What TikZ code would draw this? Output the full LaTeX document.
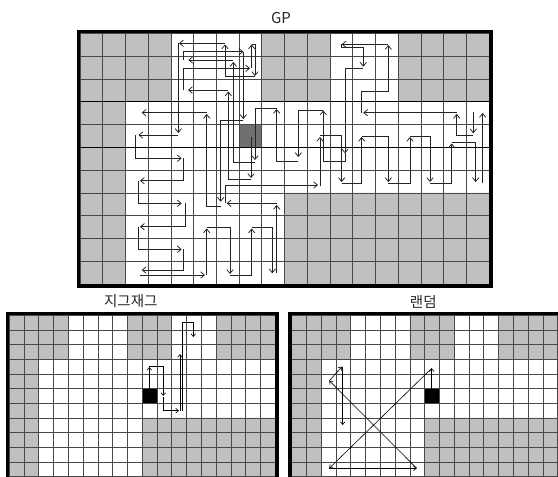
\documentclass[tikz,border=0pt]{standalone}
\usepackage{fontspec}
\newfontfamily\krfont{Noto Sans CJK KR}
\usetikzlibrary{arrows.meta}
\definecolor{cellgray}{RGB}{192,192,192}
\definecolor{lineg}{RGB}{72,72,72}
\definecolor{darkcell}{RGB}{112,112,112}
\definecolor{arrowc}{RGB}{35,35,35}
% #1 x0, #2 y0, #3 cell width, #4 cell height
\newcommand\drawpanel[4]{%
\begin{scope}[shift={(#1,#2)}, x=#3pt, y=-#4pt]
 \fill[cellgray] (0,0) rectangle (4,3) (8,0) rectangle (11,3) (14,0) rectangle (18,3)
   (0,3) rectangle (2,11) (9,7) rectangle (18,11);
\end{scope}}
\newcommand\drawgrid[4]{%
\begin{scope}[shift={(#1,#2)}, x=#3pt, y=-#4pt]
 \foreach \i in {0,...,18} \draw[gline] (\i,0) -- (\i,11);
 \foreach \j in {0,...,11} \draw[gline] (0,\j) -- (18,\j);
 \draw[pframe] ([shift={(-1.7pt,1.7pt)}]0,0) rectangle ([shift={(1.7pt,-1.7pt)}]18,11);
\end{scope}}
\begin{document}
\begin{tikzpicture}[x=1pt,y=-1pt,
  gline/.style={draw=lineg, line width=0.8pt},
  pframe/.style={draw=black, line width=3.4pt},
  gpmove/.style={draw=arrowc, line width=0.75pt, -{Straight Barb[length=3.8pt,width=6.4pt]}},
  smove/.style={draw=black, line width=0.6pt, -{Straight Barb[length=2.8pt,width=4.6pt]}},
  lbl/.style={font=\krfont\fontsize{14.5}{16}\selectfont, inner sep=0pt, text=black!85}]
\fill[white] (0,0) rectangle (558,477);
\useasboundingbox (0,0) rectangle (558,477);

% ---------- panels ----------
\drawpanel{80}{33.3}{22.73}{22.8}
\fill[darkcell] (239.1,124.5) rectangle (261.8,147.3);
\drawgrid{80}{33.3}{22.73}{22.8}
\draw[black, line width=0.9pt] (80,101.7) -- (489.1,101.7);
\draw[black, line width=0.9pt] (80,147.3) -- (489.1,147.3);

\drawpanel{9.3}{315.3}{14.78}{14.67}
\fill[black] (142.3,388.7) rectangle (157.1,403.4);
\drawgrid{9.3}{315.3}{14.78}{14.67}

\drawpanel{291.7}{315.3}{14.78}{14.67}
\fill[black] (424.7,388.7) rectangle (439.5,403.4);
\drawgrid{291.7}{315.3}{14.78}{14.67}

% ---------- labels ----------
\node[lbl, font=\krfont\fontsize{15}{17}\selectfont] (tgp) at (281,17.7) {GP};
\node[lbl] (tzz) at (130.8,301) {지그재그};
\node[lbl] (trd) at (423.3,302) {랜덤};

% ---------- GP path ----------
\draw[gpmove] (251,137) -- (251,178);
\draw[gpmove] (251,179) -- (228.3,179) -- (228.3,91.5);
\draw[gpmove] (228.3,90) -- (188,90);
\draw[gpmove] (183.3,90) -- (183.3,68.3) -- (250,68.3);
\draw[gpmove] (251.7,68.3) -- (251.7,44.5);
\draw[gpmove] (251.7,44.5) -- (255,44.5) -- (255,76);
\draw[gpmove] (255,76.7) -- (225,76.7) -- (225,44.5);
\draw[gpmove] (225,43.3) -- (179,43.3);
\draw[gpmove] (178.3,43.3) -- (178.3,133);
\draw[gpmove] (178.3,135) -- (138.5,135);
\draw[gpmove] (135,135) -- (135,158.3) -- (181.7,158.3);
\draw[gpmove] (183.3,158.3) -- (183.3,180.7) -- (140,180.7);
\draw[gpmove] (138.3,180.7) -- (138.3,203.3) -- (181.7,203.3);
\draw[gpmove] (185,203.3) -- (185,226.7) -- (140,226.7);
\draw[gpmove] (138.3,226.7) -- (138.3,249.3) -- (181.7,249.3);
\draw[gpmove] (183.3,249.3) -- (183.3,270) -- (141.7,270);
\draw[gpmove] (140,275) -- (205,275);
\draw[gpmove] (206.7,275) -- (206.7,228.5);
\draw[gpmove] (206.7,227.3) -- (230,227.3) -- (230,274);
\draw[gpmove] (230,275) -- (251.7,275) -- (251.7,228.5);
\draw[gpmove] (251.7,227.3) -- (272.3,227.3) -- (272.3,273.3);
\draw[gpmove] (276.7,273.3) -- (276.7,205);
\draw[gpmove] (276.7,203.3) -- (226.7,203.3);
\draw[gpmove] (225,203.3) -- (225,185) -- (318,185);
\draw[gpmove] (320,186) -- (320,137);
\draw[gpmove] (320,135) -- (341.7,135) -- (341.7,182);
\draw[gpmove] (341.7,183.3) -- (361.7,183.3) -- (361.7,137);
\draw[gpmove] (361.7,136) -- (388.3,136) -- (388.3,182);
\draw[gpmove] (388.3,183.3) -- (410,183.3) -- (410,137);
\draw[gpmove] (410,136) -- (430,136) -- (430,182);
\draw[gpmove] (430,183.3) -- (451.7,183.3) -- (451.7,143.5);
\draw[gpmove] (451.7,142.7) -- (475.7,142.7) -- (475.7,182);
\draw[gpmove] (482.7,183.3) -- (482.7,113);
\draw[gpmove] (473.3,111.7) -- (473.3,133.3);
\draw[gpmove] (473.3,135) -- (456.7,135) -- (456.7,114);
\draw[gpmove] (456.7,112.7) -- (363.3,112.7);
\draw[gpmove] (361.7,112.7) -- (361.7,91.7) -- (388.3,91.7) -- (388.3,45);
\draw[gpmove] (388.3,44.3) -- (341.7,44.3);
\draw[gpmove] (341.7,44.3) -- (341.7,47.7) -- (363.3,47.7) -- (363.3,66.7);
\draw[gpmove] (363.3,68.3) -- (345,68.3) -- (345,153.3);
\draw[gpmove] (345,153.3) -- (345,161.7) -- (323.3,161.7) -- (323.3,110.5);
\draw[gpmove] (323.3,110) -- (298.3,110) -- (298.3,157);
\draw[gpmove] (298.3,161.7) -- (276.7,161.7) -- (276.7,109);
\draw[gpmove] (276.7,108.3) -- (255,108.3) -- (255,160);
\draw[gpmove] (255,162) -- (233.3,162) -- (233.3,62);
\draw[gpmove] (233.3,60) -- (188.3,60);
\draw[gpmove] (183.3,60) -- (183.3,51.7) -- (243.3,51.7);
\draw[gpmove] (243.3,51.7) -- (243.3,119);
\draw[gpmove] (243.3,120.7) -- (220.7,120.7) -- (220.7,201.7);
\draw[gpmove] (220.7,206.7) -- (206.7,206.7) -- (206.7,114);
\draw[gpmove] (206.7,112.7) -- (141.7,112.7);

% ---------- zigzag path ----------
\draw[smove] (149.3,388.7) -- (149.3,367);
\draw[smove] (149.3,366.7) -- (163.3,366.7) -- (163.3,396);
\draw[smove] (163.3,397) -- (163.3,410.7) -- (179,410.7);
\draw[smove] (180,410.7) -- (180,354);
\draw[smove] (182.7,410.7) -- (182.7,322.7) -- (193.3,322.7) -- (193.3,337);

% ---------- random path ----------
\draw[smove] (431.7,389.3) -- (431.7,368.3);
\draw[smove] (431.7,368.3) -- (329.3,468.3);
\draw[smove] (329.3,468.3) -- (416.7,468.3);
\draw[smove] (416.7,468.3) -- (329.3,380.7);
\draw[smove] (329.3,380.7) -- (342,366.7);
\draw[smove] (342.7,366.7) -- (342.7,425);
\end{tikzpicture}
\end{document}
